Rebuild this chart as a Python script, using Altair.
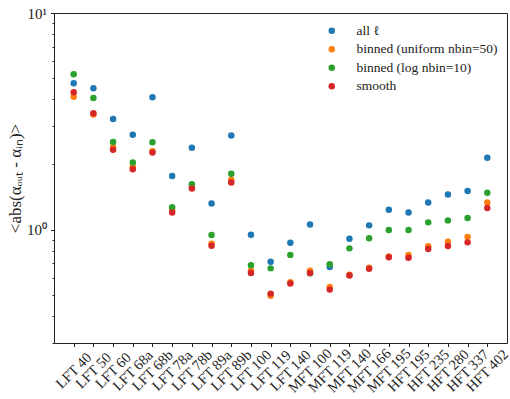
import altair as alt
import pandas as pd

# Frequency channels along the x axis
channels = ["LFT 40", "LFT 50", "LFT 60", "LFT 68a", "LFT 68b", "LFT 78a", "LFT 78b",
            "LFT 89a", "LFT 89b", "LFT 100", "LFT 119", "LFT 140", "MFT 100", "MFT 119",
            "MFT 140", "MFT 166", "MFT 195", "HFT 195", "HFT 235", "HFT 280", "HFT 337",
            "HFT 402"]

# <abs(alpha_out - alpha_in)> for each estimator
all_ell = [4.74, 4.50, 3.24, 2.74, 4.09, 1.77, 2.39, 1.32, 2.72, 0.948, 0.712, 0.871,
           1.058, 0.673, 0.909, 1.047, 1.236, 1.20, 1.336, 1.455, 1.507, 2.15]
binned_uniform = [4.11, 3.40, 2.40, 1.95, 2.30, 1.23, 1.58, 0.862, 1.70, 0.647, 0.496, 0.572,
                  0.647, 0.544, 0.620, 0.668, 0.753, 0.764, 0.838, 0.881, 0.925, 1.336]
binned_log = [5.22, 4.05, 2.54, 2.04, 2.53, 1.27, 1.62, 0.945, 1.81, 0.685, 0.663, 0.764,
              0.629, 0.692, 0.820, 0.912, 0.997, 0.997, 1.081, 1.104, 1.132, 1.48]
smooth = [4.31, 3.45, 2.34, 1.90, 2.27, 1.20, 1.55, 0.844, 1.65, 0.631, 0.507, 0.564,
          0.631, 0.529, 0.614, 0.661, 0.746, 0.743, 0.815, 0.841, 0.874, 1.259]

series_names = ["all \u2113", "binned (uniform nbin=50)", "binned (log nbin=10)", "smooth"]
series_values = [all_ell, binned_uniform, binned_log, smooth]
series_colors = ["#1f77b4", "#ff7f0e", "#2ca02c", "#d62728"]

major_ticks = [1, 10]
minor_ticks = [0.3, 0.4, 0.5, 0.6, 0.7, 0.8, 0.9, 2, 3, 4, 5, 6, 7, 8, 9]

rows = []
for name, vals in zip(series_names, series_values):
    for ch, v in zip(channels, vals):
        rows.append({"channel": ch, "series": name, "value": v})
df = pd.DataFrame(rows)

FONT = "Liberation Serif"

x_enc = alt.X(
    "channel:N",
    sort=channels,
    scale=alt.Scale(type="point", padding=1.05),
    axis=alt.Axis(
        title=None, labelAngle=-45, labelAlign="center", labelBaseline="middle",
        labelFontSize=14.5, labelFont=FONT, labelColor="#222", labelPadding=24,
        tickSize=3.5, tickColor="#222", domain=False, grid=False,
    ),
)

y_scale = alt.Scale(type="log", domain=[0.3, 10], nice=False)

points = alt.Chart(df).mark_circle(size=42, opacity=1).encode(
    x=x_enc,
    y=alt.Y(
        "value:Q",
        scale=y_scale,
        axis=alt.Axis(
            orient="left", values=major_ticks, tickSize=3.5, tickColor="#222",
            labelExpr="datum.value == 1 ? '10\u2070' : '10\u00b9'",
            labelFont=FONT, labelFontSize=15, labelColor="#222", labelPadding=4,
            domain=False, grid=False,
            title="<abs(\u03b1\u2092\u1d64\u209c - \u03b1\u1d62\u2099)>",
            titleFont=FONT, titleFontSize=17, titleFontWeight="normal",
            titleColor="#222", titleAngle=-90, titleX=-39, titleY=165,
            titleAlign="center", titleBaseline="middle",
        ),
    ),
    color=alt.Color(
        "series:N",
        sort=series_names,
        scale=alt.Scale(domain=series_names, range=series_colors),
        legend=alt.Legend(
            title=None, orient="none", legendX=271, legendY=11,
            symbolType="circle", symbolSize=42, symbolOpacity=1, symbolStrokeWidth=0,
            labelFont=FONT, labelFontSize=13.5, labelColor="#222",
            labelOffset=18, rowPadding=3.5, padding=0,
        ),
    ),
)

# Invisible copy carrying the shorter minor ticks of the log axis
minor = alt.Chart(df).mark_circle(size=1, opacity=0).encode(
    x=alt.X("channel:N", sort=channels, scale=alt.Scale(type="point", padding=1.05), axis=None),
    y=alt.Y(
        "value:Q",
        scale=y_scale,
        axis=alt.Axis(
            orient="left", values=minor_ticks, tickSize=2, tickColor="#222",
            labels=False, domain=False, grid=False, title=None,
        ),
    ),
)

chart = (
    alt.layer(points, minor)
    .resolve_axis(y="independent", x="independent")
    .properties(
        width=453, height=330,
        autosize=alt.AutoSizeParams(type="none"),
        padding={"left": 54, "top": 13, "right": 3, "bottom": 56},
        background="white",
    )
    .configure_view(stroke="#222", strokeWidth=1)
)

chart.save("out.html", embed_options={"renderer": "svg", "actions": False})
